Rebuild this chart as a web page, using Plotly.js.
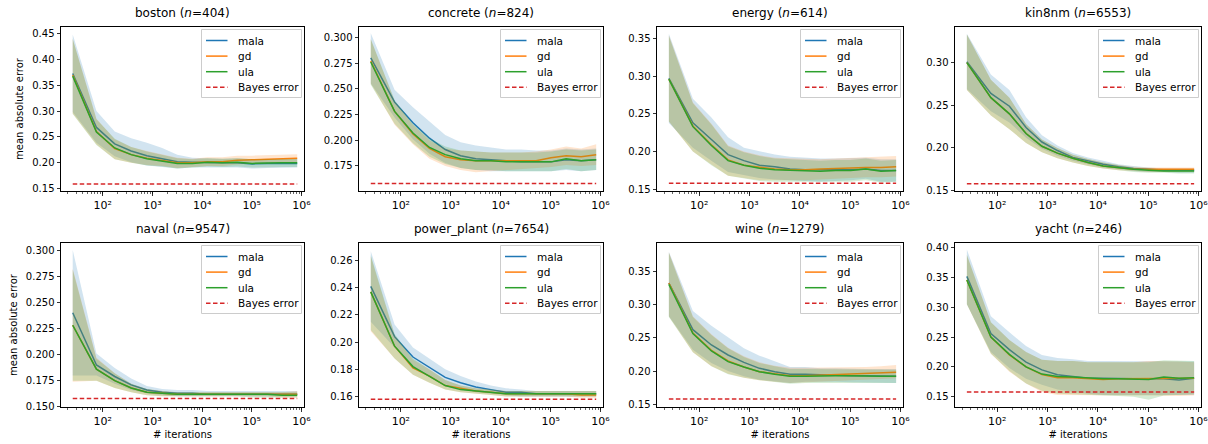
<!DOCTYPE html>
<html>
<head>
<meta charset="utf-8">
<script src="https://cdn.plot.ly/plotly-3.0.1.min.js"></script>
<style>html,body{margin:0;padding:0;background:#fff;}#chart{width:1208px;height:444px;}</style>
</head>
<body>
<div id="chart"></div>
<script>
// ---------- data ----------
const iterations = [25, 75, 175, 375, 775, 1575, 3175, 6375, 12775, 25575, 51175, 102375, 204775, 409575, 819175];
const bayesError = 0.158;
const datasetNames = ['boston', 'concrete', 'energy', 'kin8nm', 'naval', 'power_plant', 'wine', 'yacht'];
const datasetSizes = [404, 824, 614, 6553, 9547, 7654, 1279, 246];
const seriesNames = ['mala', 'gd', 'ula'];
const legendLabels = ['mala', 'gd', 'ula', 'Bayes error'];
const xTickVals = [100, 1000, 10000, 100000, 1000000];
const xTickText = ['10²', '10³', '10⁴', '10⁵', '10⁶'];

const bostonMala   = [0.373, 0.268, 0.236, 0.222, 0.213, 0.207, 0.201, 0.200, 0.199, 0.199, 0.199, 0.197, 0.198, 0.198, 0.198];
const bostonMalaHi = [0.449, 0.300, 0.260, 0.247, 0.238, 0.228, 0.215, 0.209, 0.208, 0.207, 0.208, 0.206, 0.207, 0.207, 0.207];
const bostonMalaLo = [0.298, 0.238, 0.212, 0.200, 0.194, 0.191, 0.188, 0.190, 0.190, 0.190, 0.190, 0.188, 0.189, 0.190, 0.190];
const bostonGd     = [0.370, 0.260, 0.227, 0.215, 0.208, 0.204, 0.199, 0.199, 0.201, 0.201, 0.204, 0.205, 0.206, 0.207, 0.208];
const bostonGdHi   = [0.440, 0.285, 0.245, 0.230, 0.222, 0.215, 0.209, 0.207, 0.210, 0.210, 0.213, 0.213, 0.214, 0.215, 0.216];
const bostonGdLo   = [0.295, 0.235, 0.206, 0.199, 0.195, 0.193, 0.189, 0.191, 0.193, 0.193, 0.196, 0.197, 0.198, 0.199, 0.200];
const bostonUla    = [0.368, 0.259, 0.228, 0.215, 0.207, 0.203, 0.198, 0.198, 0.200, 0.199, 0.200, 0.198, 0.199, 0.199, 0.199];
const bostonUlaHi  = [0.440, 0.284, 0.246, 0.230, 0.221, 0.214, 0.208, 0.206, 0.208, 0.207, 0.208, 0.206, 0.207, 0.207, 0.207];
const bostonUlaLo  = [0.294, 0.234, 0.206, 0.199, 0.194, 0.192, 0.188, 0.190, 0.192, 0.191, 0.192, 0.190, 0.191, 0.191, 0.191];

const concreteMala   = [0.280, 0.237, 0.217, 0.202, 0.191, 0.185, 0.182, 0.181, 0.180, 0.179, 0.179, 0.179, 0.181, 0.180, 0.181];
const concreteMalaHi = [0.304, 0.249, 0.232, 0.218, 0.205, 0.198, 0.195, 0.193, 0.191, 0.191, 0.190, 0.190, 0.192, 0.191, 0.192];
const concreteMalaLo = [0.255, 0.222, 0.201, 0.187, 0.178, 0.173, 0.171, 0.170, 0.170, 0.170, 0.170, 0.170, 0.171, 0.170, 0.171];
const concreteGd     = [0.277, 0.228, 0.206, 0.192, 0.184, 0.181, 0.180, 0.180, 0.180, 0.180, 0.180, 0.183, 0.185, 0.184, 0.186];
const concreteGdHi   = [0.298, 0.238, 0.215, 0.200, 0.192, 0.190, 0.189, 0.188, 0.188, 0.188, 0.189, 0.191, 0.194, 0.192, 0.196];
const concreteGdLo   = [0.255, 0.215, 0.196, 0.182, 0.175, 0.171, 0.169, 0.170, 0.171, 0.172, 0.173, 0.174, 0.176, 0.175, 0.176];
const concreteUla    = [0.276, 0.228, 0.207, 0.193, 0.186, 0.182, 0.180, 0.180, 0.179, 0.179, 0.179, 0.179, 0.182, 0.180, 0.181];
const concreteUlaHi  = [0.298, 0.239, 0.216, 0.202, 0.194, 0.190, 0.189, 0.188, 0.188, 0.188, 0.188, 0.189, 0.191, 0.190, 0.191];
const concreteUlaLo  = [0.254, 0.216, 0.197, 0.184, 0.177, 0.173, 0.171, 0.171, 0.170, 0.170, 0.170, 0.170, 0.172, 0.170, 0.171];

const energyMala   = [0.297, 0.238, 0.216, 0.196, 0.188, 0.182, 0.180, 0.177, 0.176, 0.176, 0.176, 0.176, 0.177, 0.175, 0.175];
const energyMalaHi = [0.356, 0.270, 0.245, 0.219, 0.205, 0.200, 0.196, 0.193, 0.192, 0.191, 0.191, 0.191, 0.192, 0.190, 0.190];
const energyMalaLo = [0.238, 0.205, 0.188, 0.173, 0.169, 0.165, 0.163, 0.162, 0.161, 0.160, 0.161, 0.162, 0.164, 0.160, 0.160];
const energyGd     = [0.296, 0.234, 0.209, 0.189, 0.182, 0.179, 0.177, 0.176, 0.176, 0.177, 0.178, 0.179, 0.179, 0.179, 0.180];
const energyGdHi   = [0.354, 0.265, 0.237, 0.208, 0.200, 0.195, 0.192, 0.191, 0.190, 0.190, 0.191, 0.192, 0.193, 0.193, 0.194];
const energyGdLo   = [0.240, 0.200, 0.183, 0.168, 0.165, 0.162, 0.162, 0.162, 0.162, 0.163, 0.164, 0.165, 0.166, 0.166, 0.167];
const energyUla    = [0.296, 0.233, 0.208, 0.188, 0.182, 0.178, 0.176, 0.175, 0.175, 0.174, 0.175, 0.175, 0.177, 0.174, 0.175];
const energyUlaHi  = [0.353, 0.264, 0.236, 0.207, 0.199, 0.194, 0.191, 0.190, 0.189, 0.188, 0.189, 0.189, 0.191, 0.188, 0.189];
const energyUlaLo  = [0.240, 0.200, 0.182, 0.168, 0.164, 0.161, 0.160, 0.160, 0.160, 0.159, 0.160, 0.160, 0.162, 0.159, 0.160];

const kin8nmMala   = [0.301, 0.264, 0.249, 0.224, 0.207, 0.197, 0.189, 0.185, 0.181, 0.178, 0.176, 0.175, 0.174, 0.174, 0.174];
const kin8nmMalaHi = [0.334, 0.286, 0.268, 0.236, 0.215, 0.203, 0.194, 0.189, 0.185, 0.181, 0.179, 0.177, 0.176, 0.176, 0.176];
const kin8nmMalaLo = [0.269, 0.243, 0.230, 0.212, 0.199, 0.191, 0.185, 0.181, 0.177, 0.175, 0.173, 0.172, 0.172, 0.171, 0.171];
const kin8nmGd     = [0.300, 0.259, 0.240, 0.217, 0.202, 0.194, 0.188, 0.183, 0.179, 0.177, 0.175, 0.175, 0.175, 0.175, 0.175];
const kin8nmGdHi   = [0.333, 0.280, 0.259, 0.228, 0.210, 0.200, 0.192, 0.187, 0.183, 0.180, 0.178, 0.177, 0.177, 0.177, 0.177];
const kin8nmGdLo   = [0.268, 0.238, 0.222, 0.206, 0.195, 0.188, 0.183, 0.179, 0.176, 0.174, 0.173, 0.172, 0.172, 0.172, 0.172];
const kin8nmUla    = [0.300, 0.259, 0.240, 0.217, 0.202, 0.194, 0.188, 0.183, 0.179, 0.177, 0.175, 0.174, 0.173, 0.173, 0.173];
const kin8nmUlaHi  = [0.333, 0.280, 0.259, 0.228, 0.210, 0.200, 0.192, 0.187, 0.183, 0.180, 0.177, 0.176, 0.175, 0.175, 0.175];
const kin8nmUlaLo  = [0.268, 0.238, 0.222, 0.206, 0.195, 0.188, 0.183, 0.179, 0.176, 0.174, 0.172, 0.171, 0.171, 0.170, 0.170];

const navalMala   = [0.240, 0.190, 0.179, 0.171, 0.166, 0.164, 0.163, 0.163, 0.162, 0.162, 0.162, 0.162, 0.162, 0.162, 0.162];
const navalMalaHi = [0.300, 0.201, 0.187, 0.177, 0.170, 0.167, 0.166, 0.166, 0.165, 0.165, 0.165, 0.165, 0.165, 0.165, 0.165];
const navalMalaLo = [0.180, 0.180, 0.172, 0.166, 0.163, 0.161, 0.160, 0.160, 0.160, 0.160, 0.160, 0.160, 0.160, 0.160, 0.160];
const navalGd     = [0.228, 0.186, 0.175, 0.168, 0.164, 0.163, 0.162, 0.162, 0.162, 0.162, 0.162, 0.162, 0.162, 0.162, 0.162];
const navalGdHi   = [0.282, 0.197, 0.182, 0.172, 0.167, 0.165, 0.164, 0.164, 0.164, 0.164, 0.164, 0.164, 0.164, 0.164, 0.165];
const navalGdLo   = [0.174, 0.175, 0.168, 0.164, 0.161, 0.160, 0.160, 0.160, 0.160, 0.160, 0.160, 0.160, 0.160, 0.159, 0.159];
const navalUla    = [0.228, 0.186, 0.175, 0.168, 0.164, 0.163, 0.162, 0.162, 0.162, 0.162, 0.162, 0.162, 0.162, 0.161, 0.161];
const navalUlaHi  = [0.281, 0.196, 0.182, 0.172, 0.167, 0.165, 0.164, 0.164, 0.164, 0.164, 0.164, 0.164, 0.164, 0.164, 0.164];
const navalUlaLo  = [0.175, 0.175, 0.168, 0.164, 0.161, 0.160, 0.160, 0.160, 0.160, 0.160, 0.160, 0.159, 0.159, 0.159, 0.159];

const powerMala   = [0.241, 0.204, 0.189, 0.181, 0.174, 0.170, 0.167, 0.165, 0.163, 0.163, 0.162, 0.162, 0.162, 0.162, 0.162];
const powerMalaHi = [0.267, 0.213, 0.196, 0.188, 0.180, 0.175, 0.171, 0.168, 0.166, 0.165, 0.164, 0.164, 0.164, 0.164, 0.164];
const powerMalaLo = [0.215, 0.196, 0.182, 0.175, 0.169, 0.165, 0.163, 0.162, 0.161, 0.160, 0.160, 0.160, 0.160, 0.160, 0.160];
const powerGd     = [0.237, 0.197, 0.181, 0.175, 0.168, 0.166, 0.164, 0.163, 0.162, 0.162, 0.162, 0.162, 0.162, 0.161, 0.161];
const powerGdHi   = [0.263, 0.205, 0.187, 0.180, 0.172, 0.168, 0.166, 0.165, 0.164, 0.164, 0.164, 0.164, 0.164, 0.164, 0.164];
const powerGdLo   = [0.208, 0.188, 0.176, 0.170, 0.165, 0.163, 0.162, 0.161, 0.160, 0.160, 0.160, 0.160, 0.160, 0.159, 0.159];
const powerUla    = [0.237, 0.197, 0.182, 0.175, 0.168, 0.165, 0.164, 0.163, 0.162, 0.162, 0.162, 0.162, 0.162, 0.162, 0.162];
const powerUlaHi  = [0.264, 0.206, 0.188, 0.180, 0.172, 0.168, 0.166, 0.165, 0.164, 0.164, 0.164, 0.164, 0.164, 0.164, 0.164];
const powerUlaLo  = [0.209, 0.188, 0.176, 0.170, 0.165, 0.163, 0.162, 0.161, 0.160, 0.160, 0.160, 0.160, 0.160, 0.160, 0.160];

const wineMala   = [0.332, 0.262, 0.239, 0.224, 0.213, 0.204, 0.199, 0.195, 0.195, 0.194, 0.194, 0.193, 0.193, 0.193, 0.192];
const wineMalaHi = [0.379, 0.290, 0.268, 0.250, 0.234, 0.223, 0.215, 0.206, 0.206, 0.204, 0.204, 0.203, 0.203, 0.203, 0.203];
const wineMalaLo = [0.282, 0.232, 0.212, 0.200, 0.192, 0.187, 0.184, 0.182, 0.184, 0.184, 0.184, 0.183, 0.183, 0.182, 0.182];
const wineGd     = [0.332, 0.257, 0.231, 0.215, 0.206, 0.199, 0.196, 0.193, 0.193, 0.194, 0.194, 0.195, 0.196, 0.197, 0.198];
const wineGdHi   = [0.378, 0.282, 0.255, 0.235, 0.222, 0.213, 0.208, 0.205, 0.205, 0.205, 0.205, 0.205, 0.206, 0.207, 0.209];
const wineGdLo   = [0.282, 0.228, 0.207, 0.196, 0.190, 0.186, 0.184, 0.182, 0.183, 0.184, 0.185, 0.186, 0.187, 0.188, 0.189];
const wineUla    = [0.330, 0.256, 0.230, 0.214, 0.206, 0.199, 0.195, 0.192, 0.192, 0.193, 0.193, 0.193, 0.192, 0.192, 0.192];
const wineUlaHi  = [0.377, 0.281, 0.254, 0.234, 0.221, 0.212, 0.207, 0.203, 0.203, 0.203, 0.203, 0.203, 0.202, 0.202, 0.202];
const wineUlaLo  = [0.281, 0.228, 0.207, 0.195, 0.190, 0.186, 0.183, 0.181, 0.182, 0.183, 0.183, 0.183, 0.182, 0.182, 0.182];

const yachtMala   = [0.352, 0.256, 0.229, 0.208, 0.195, 0.187, 0.184, 0.181, 0.181, 0.180, 0.180, 0.180, 0.180, 0.178, 0.181];
const yachtMalaHi = [0.397, 0.285, 0.258, 0.235, 0.220, 0.215, 0.213, 0.210, 0.210, 0.210, 0.210, 0.210, 0.210, 0.209, 0.209];
const yachtMalaLo = [0.305, 0.225, 0.198, 0.180, 0.170, 0.162, 0.158, 0.155, 0.153, 0.152, 0.152, 0.152, 0.153, 0.153, 0.153];
const yachtGd     = [0.346, 0.250, 0.220, 0.200, 0.187, 0.182, 0.182, 0.180, 0.179, 0.180, 0.180, 0.181, 0.181, 0.180, 0.181];
const yachtGdHi   = [0.388, 0.275, 0.245, 0.225, 0.212, 0.210, 0.210, 0.208, 0.208, 0.208, 0.208, 0.210, 0.210, 0.209, 0.208];
const yachtGdLo   = [0.305, 0.222, 0.192, 0.172, 0.158, 0.153, 0.153, 0.152, 0.152, 0.152, 0.152, 0.152, 0.152, 0.151, 0.152];
const yachtUla    = [0.346, 0.250, 0.221, 0.200, 0.188, 0.184, 0.183, 0.181, 0.180, 0.180, 0.180, 0.179, 0.183, 0.181, 0.182];
const yachtUlaHi  = [0.388, 0.275, 0.245, 0.225, 0.212, 0.210, 0.210, 0.208, 0.208, 0.208, 0.208, 0.208, 0.211, 0.210, 0.210];
const yachtUlaLo  = [0.305, 0.222, 0.193, 0.172, 0.160, 0.155, 0.154, 0.152, 0.152, 0.151, 0.150, 0.145, 0.152, 0.153, 0.154];

// y-axis tick settings per panel
const yTick0 = [0.15, 0.175, 0.15, 0.15, 0.175, 0.16, 0.15, 0.15];
const yDtick = [0.05, 0.025, 0.05, 0.05, 0.025, 0.02, 0.05, 0.05];
const yFormat = ['.2f', '.3f', '.2f', '.2f', '.3f', '.2f', '.2f', '.2f'];
const yRanges = [[0.1442, 0.4636], [0.1507, 0.310], [0.1478, 0.365], [0.1496, 0.3418],
                 [0.1498, 0.3067], [0.1522, 0.273], [0.146, 0.392], [0.1327, 0.408]];

// ---------- assembly ----------
const panelData = [
  [[bostonMala, bostonMalaLo, bostonMalaHi], [bostonGd, bostonGdLo, bostonGdHi], [bostonUla, bostonUlaLo, bostonUlaHi]],
  [[concreteMala, concreteMalaLo, concreteMalaHi], [concreteGd, concreteGdLo, concreteGdHi], [concreteUla, concreteUlaLo, concreteUlaHi]],
  [[energyMala, energyMalaLo, energyMalaHi], [energyGd, energyGdLo, energyGdHi], [energyUla, energyUlaLo, energyUlaHi]],
  [[kin8nmMala, kin8nmMalaLo, kin8nmMalaHi], [kin8nmGd, kin8nmGdLo, kin8nmGdHi], [kin8nmUla, kin8nmUlaLo, kin8nmUlaHi]],
  [[navalMala, navalMalaLo, navalMalaHi], [navalGd, navalGdLo, navalGdHi], [navalUla, navalUlaLo, navalUlaHi]],
  [[powerMala, powerMalaLo, powerMalaHi], [powerGd, powerGdLo, powerGdHi], [powerUla, powerUlaLo, powerUlaHi]],
  [[wineMala, wineMalaLo, wineMalaHi], [wineGd, wineGdLo, wineGdHi], [wineUla, wineUlaLo, wineUlaHi]],
  [[yachtMala, yachtMalaLo, yachtMalaHi], [yachtGd, yachtGdLo, yachtGdHi], [yachtUla, yachtUlaLo, yachtUlaHi]]
];

const W = 1208, H = 444;
const colLeft = [61, 359, 657, 955];
const colRight = [304, 603, 903, 1201];
const rowTop = [27, 243];
const rowBottom = [191, 407];
const lineColors = ['#1f77b4', '#ff7f0e', '#2ca02c', '#d62728'];
const fillColors = ['rgba(31,119,180,0.2)', 'rgba(255,127,14,0.2)', 'rgba(44,160,44,0.2)'];
const BAYES_DASH = '4.5px,2.5px';
const FONT = 'DejaVu Sans, Liberation Sans, sans-serif';
const px = v => v / W;
const py = v => 1 - v / H;

const traces = [];
const layout = {
  width: W, height: H, autosize: false,
  margin: {l: 0, r: 0, t: 0, b: 0},
  paper_bgcolor: '#ffffff', plot_bgcolor: '#ffffff',
  font: {family: FONT, size: 10, color: '#000'},
  showlegend: false,
  annotations: [],
  shapes: []
};

for (let p = 0; p < 8; p++) {
  const row = Math.floor(p / 4), col = p % 4;
  const sfx = p === 0 ? '' : String(p + 1);
  const xa = 'x' + sfx, ya = 'y' + sfx;
  const revX = iterations.slice().reverse();

  for (let s = 0; s < 3; s++) {
    const [mean, lo, hi] = panelData[p][s];
    traces.push({
      x: iterations.concat(revX), y: hi.concat(lo.slice().reverse()),
      xaxis: xa, yaxis: ya, type: 'scatter', mode: 'lines',
      fill: 'toself', fillcolor: fillColors[s], line: {width: 0, color: 'rgba(0,0,0,0)'},
      hoverinfo: 'skip', showlegend: false
    });
    traces.push({
      x: iterations, y: mean, xaxis: xa, yaxis: ya, type: 'scatter', mode: 'lines',
      name: seriesNames[s], line: {color: lineColors[s], width: 1.5}, showlegend: false
    });
  }
  traces.push({
    x: [iterations[0], iterations[iterations.length - 1]], y: [bayesError, bayesError],
    xaxis: xa, yaxis: ya, type: 'scatter', mode: 'lines', name: 'Bayes error',
    line: {color: lineColors[3], width: 1.5, dash: BAYES_DASH}, showlegend: false
  });

  const xd = [px(colLeft[col]), px(colRight[col])];
  const yd = [py(rowBottom[row]), py(rowTop[row])];
  const axisCommon = {
    showline: true, mirror: true, linecolor: '#000', linewidth: 1,
    ticks: 'outside', ticklen: 3.5, tickwidth: 0.8, tickcolor: '#000',
    showgrid: false, zeroline: false, ticklabeloverflow: 'allow',
    tickfont: {family: FONT, size: 10, color: '#000'}
  };
  layout['xaxis' + sfx] = Object.assign({}, axisCommon, {
    type: 'log', range: [1.162, 6.05], domain: xd, anchor: ya,
    tickmode: 'array', tickvals: xTickVals, ticktext: xTickText,
    tickfont: {family: FONT, size: 11, color: '#000'},
    minor: {ticks: 'outside', ticklen: 2, tickwidth: 0.6, tickcolor: '#000', dtick: 'D1', showgrid: false},
    title: row === 1 ? {text: '# iterations', font: {family: FONT, size: 10, color: '#000'}, standoff: 4} : {text: ''}
  });
  layout['yaxis' + sfx] = Object.assign({}, axisCommon, {
    range: yRanges[p], domain: yd, anchor: xa,
    tick0: yTick0[p], dtick: yDtick[p], tickformat: yFormat[p],
    title: col === 0 ? {text: 'mean absolute error', font: {family: FONT, size: 10, color: '#000'}, standoff: 6} : {text: ''}
  });

  // subplot title
  layout.annotations.push({
    xref: 'paper', yref: 'paper',
    x: px((colLeft[col] + colRight[col]) / 2), y: py(rowTop[row] - 5),
    xanchor: 'center', yanchor: 'bottom', showarrow: false,
    text: datasetNames[p] + ' (<i>n</i>=' + datasetSizes[p] + ')',
    font: {family: FONT, size: 12, color: '#000'}
  });

  // legend box (matplotlib style, upper right)
  const bRight = colRight[col] - 2.5, bLeft = bRight - 100, bTop = rowTop[row] + 2.5, bBottom = bTop + 68;
  layout.shapes.push({
    type: 'rect', xref: 'paper', yref: 'paper', layer: 'above',
    x0: px(bLeft), x1: px(bRight), y0: py(bBottom), y1: py(bTop),
    fillcolor: 'rgba(255,255,255,0.8)', line: {color: '#cccccc', width: 1}
  });
  for (let k = 0; k < 4; k++) {
    const yy = bTop + 11 + 15.6 * k;
    layout.shapes.push({
      type: 'line', xref: 'paper', yref: 'paper', layer: 'above',
      x0: px(bLeft + 4.5), x1: px(bLeft + 26), y0: py(yy), y1: py(yy),
      line: {color: lineColors[k], width: 1.5, dash: k === 3 ? BAYES_DASH : 'solid'}
    });
    layout.annotations.push({
      xref: 'paper', yref: 'paper', x: px(bLeft + 34), y: py(yy),
      xanchor: 'left', yanchor: 'middle', showarrow: false,
      text: legendLabels[k], font: {family: FONT, size: 10.5, color: '#000'}
    });
  }
}

Plotly.newPlot('chart', traces, layout, {displayModeBar: false, staticPlot: true});
</script>
</body>
</html>
